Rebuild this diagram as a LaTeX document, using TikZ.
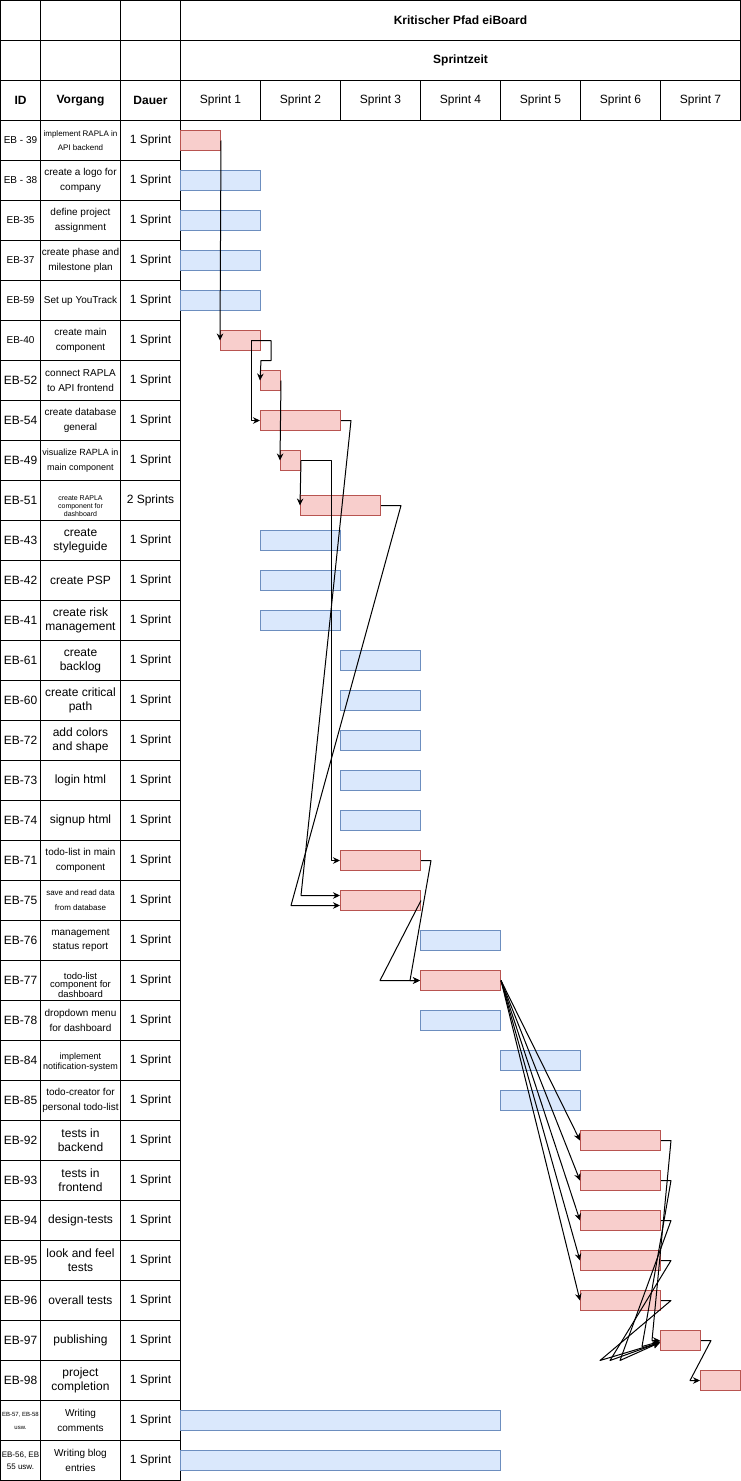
\documentclass[tikz,border=0pt]{standalone}
\usepackage{fontspec}
\setmainfont{Liberation Sans}
\usetikzlibrary{arrows.meta,calc}
\definecolor{redfill}{HTML}{F8CECC}
\definecolor{redline}{HTML}{B85450}
\definecolor{bluefill}{HTML}{DAE8FC}
\definecolor{blueline}{HTML}{6C8EBF}
\newcommand\myfs[2]{\fontsize{#1}{#2}\selectfont}
\newcommand\mytaskrow[8]{%
  \node[cell, minimum width=40pt, font=\myfs{#2}{#3}] (id#1) at (20,{140+40*#1}) {#4};
  \node[cell, minimum width=80pt, font=\myfs{#5}{#6}] (vg#1) at (80,{140+40*#1}) {#7};
  \node[cell, minimum width=60pt, font=\myfs{12}{14}] (du#1) at (150,{140+40*#1}) {#8};
}
\tikzset{
  cell/.style={draw, line width=1pt, minimum height=40pt, inner sep=0pt, align=center},
  barbase/.style={minimum height=20pt, inner sep=0pt, line width=1pt},
  redbar/.style={barbase, draw=redline, fill=redfill},
  bluebar/.style={barbase, draw=blueline, fill=bluefill},
  conn/.style={draw, line width=1pt, line join=round, -{Stealth[length=7pt,width=6.5pt]}},
}
\begin{document}
\begin{tikzpicture}[x=1pt,y=-1pt]
\useasboundingbox (-0.5,-0.5) rectangle (740.5,1480.5);
% header
\node[cell, minimum width=40pt] (e1) at (20,20) {};
\node[cell, minimum width=80pt] (e2) at (80,20) {};
\node[cell, minimum width=60pt] (e3) at (150,20) {};
\node[cell, minimum width=40pt] (e4) at (20,60) {};
\node[cell, minimum width=80pt] (e5) at (80,60) {};
\node[cell, minimum width=60pt] (e6) at (150,60) {};
\node[cell, minimum width=560pt, font=\bfseries\myfs{12}{14}] (title) at (460,20) {Kritischer Pfad eiBoard};
\node[cell, minimum width=560pt, font=\bfseries\myfs{12}{14}] (sprintzeit) at (460,60) {Sprintzeit};
\node[cell, minimum width=40pt, font=\bfseries\myfs{12}{14}] (hid) at (20,100) {ID};
\node[cell, minimum width=80pt, font=\bfseries\myfs{12}{14}] (hvg) at (80,100) {Vorgang};
\node[cell, minimum width=60pt, font=\bfseries\myfs{12}{14}] (hdu) at (150,100) {Dauer};
\foreach \k in {1,...,7}{
  \node[cell, minimum width=80pt, font=\myfs{12}{14}] (s\k) at ({140+80*\k},100) {Sprint \k};
}
% rows
\mytaskrow{0}{10}{12}{EB - 39}{8}{14.5}{implement RAPLA in\\API backend}{1 Sprint}
\mytaskrow{1}{10}{12}{EB - 38}{10}{15}{create a logo for\\company}{1 Sprint}
\mytaskrow{2}{10}{12}{EB-35}{10}{14.5}{define project\\assignment}{1 Sprint}
\mytaskrow{3}{10}{12}{EB-37}{10}{15}{create phase and\\milestone plan}{1 Sprint}
\mytaskrow{4}{10}{12}{EB-59}{10}{15}{Set up YouTrack}{1 Sprint}
\mytaskrow{5}{10}{12}{EB-40}{10}{15}{create main\\component}{1 Sprint}
\mytaskrow{6}{12}{14}{EB-52}{10}{15}{connect RAPLA\\to API frontend}{1 Sprint}
\mytaskrow{7}{12}{14}{EB-54}{10}{15}{create database\\general}{1 Sprint}
\mytaskrow{8}{12}{14}{EB-49}{9}{15}{visualize RAPLA in\\main component}{1 Sprint}
\mytaskrow{9}{12}{14}{EB-51}{7}{8}{\mbox{}\\\mbox{}\\create RAPLA\\component for\\dashboard}{2 Sprints}
\mytaskrow{10}{12}{14}{EB-43}{12}{14}{create\\styleguide}{1 Sprint}
\mytaskrow{11}{12}{14}{EB-42}{12}{14}{create PSP}{1 Sprint}
\mytaskrow{12}{12}{14}{EB-41}{12}{14}{create risk\\management}{1 Sprint}
\mytaskrow{13}{12}{14}{EB-61}{12}{14}{create\\backlog}{1 Sprint}
\mytaskrow{14}{12}{14}{EB-60}{12}{14}{create critical\\path}{1 Sprint}
\mytaskrow{15}{12}{14}{EB-72}{12}{14}{add colors\\and shape}{1 Sprint}
\mytaskrow{16}{12}{14}{EB-73}{12}{14}{login html}{1 Sprint}
\mytaskrow{17}{12}{14}{EB-74}{12}{14}{signup html}{1 Sprint}
\mytaskrow{18}{12}{14}{EB-71}{10}{15}{todo-list in main\\component}{1 Sprint}
\mytaskrow{19}{12}{14}{EB-75}{8}{15}{save and read data\\from database}{1 Sprint}
\mytaskrow{20}{12}{14}{EB-76}{10}{14}{management\\status report}{1 Sprint}
\mytaskrow{21}{12}{14}{EB-77}{9.5}{8}{\mbox{}\\\mbox{}\\todo-list\\component for\\dashboard}{1 Sprint}
\mytaskrow{22}{12}{14}{EB-78}{10}{15}{dropdown menu\\for dashboard}{1 Sprint}
\mytaskrow{23}{12}{14}{EB-84}{9}{10}{\mbox{}\\implement\\notification-system}{1 Sprint}
\mytaskrow{24}{12}{14}{EB-85}{10}{15}{todo-creator for\\personal todo-list}{1 Sprint}
\mytaskrow{25}{12}{14}{EB-92}{12}{14}{tests in\\backend}{1 Sprint}
\mytaskrow{26}{12}{14}{EB-93}{12}{14}{tests in\\frontend}{1 Sprint}
\mytaskrow{27}{12}{14}{EB-94}{12}{14}{design-tests}{1 Sprint}
\mytaskrow{28}{12}{14}{EB-95}{12}{14}{look and feel\\tests}{1 Sprint}
\mytaskrow{29}{12}{14}{EB-96}{12}{14}{overall tests}{1 Sprint}
\mytaskrow{30}{12}{14}{EB-97}{12}{14}{publishing}{1 Sprint}
\mytaskrow{31}{12}{14}{EB-98}{12}{14}{project\\completion}{1 Sprint}
\mytaskrow{32}{6}{13}{EB-57, EB-58\\usw.}{10}{15}{Writing\\comments}{1 Sprint}
\mytaskrow{33}{8}{12}{EB-56, EB\\55 usw.}{10}{15}{Writing blog\\entries}{1 Sprint}
% bars
\node[redbar, minimum width=40pt] (b39) at (200,140) {};
\node[bluebar, minimum width=80pt] (b38) at (220,180) {};
\node[bluebar, minimum width=80pt] (b35) at (220,220) {};
\node[bluebar, minimum width=80pt] (b37) at (220,260) {};
\node[bluebar, minimum width=80pt] (b59) at (220,300) {};
\node[redbar, minimum width=40pt] (b40) at (240,340) {};
\node[redbar, minimum width=20pt] (b52) at (270,380) {};
\node[redbar, minimum width=80pt] (b54) at (300,420) {};
\node[redbar, minimum width=20pt] (b49) at (290,460) {};
\node[redbar, minimum width=80pt] (b51) at (340,505) {};
\node[bluebar, minimum width=80pt] (b43) at (300,540) {};
\node[bluebar, minimum width=80pt] (b42) at (300,580) {};
\node[bluebar, minimum width=80pt] (b41) at (300,620) {};
\node[bluebar, minimum width=80pt] (b61) at (380,660) {};
\node[bluebar, minimum width=80pt] (b60) at (380,700) {};
\node[bluebar, minimum width=80pt] (b72) at (380,740) {};
\node[bluebar, minimum width=80pt] (b73) at (380,780) {};
\node[bluebar, minimum width=80pt] (b74) at (380,820) {};
\node[redbar, minimum width=80pt] (b71) at (380,860) {};
\node[redbar, minimum width=80pt] (b75) at (380,900) {};
\node[bluebar, minimum width=80pt] (b76) at (460,940) {};
\node[redbar, minimum width=80pt] (b77) at (460,980) {};
\node[bluebar, minimum width=80pt] (b78) at (460,1020) {};
\node[bluebar, minimum width=80pt] (b84) at (540,1060) {};
\node[bluebar, minimum width=80pt] (b85) at (540,1100) {};
\node[redbar, minimum width=80pt] (b92) at (620,1140) {};
\node[redbar, minimum width=80pt] (b93) at (620,1180) {};
\node[redbar, minimum width=80pt] (b94) at (620,1220) {};
\node[redbar, minimum width=80pt] (b95) at (620,1260) {};
\node[redbar, minimum width=80pt] (b96) at (620,1300) {};
\node[redbar, minimum width=40pt] (b97) at (680,1340) {};
\node[redbar, minimum width=40pt] (b98) at (720,1380) {};
\node[bluebar, minimum width=320pt] (bwc) at (340,1420) {};
\node[bluebar, minimum width=320pt] (bwb) at (340,1460) {};
% connectors
\draw[conn] (b39.east) -- (b40.west);
\draw[conn] ([xshift=-10pt]b40.east) -- ++(20,0) -- ++(0,20) -- ++(-10,0) -- (b52.west);
\draw[conn] ([xshift=-10pt]b40.east) |- (b54.west);
\draw[conn] (b52.east) -- (b49.west);
\draw[conn] (b49.east) -- (b51.west);
\draw[conn] (b49.east) -- ++(30,0) |- (b71.west);
\draw[conn] (b54.east) -- ++(10,0) -- ([xshift=-39pt,yshift=5pt]b75.west) -- ([yshift=5pt]b75.west);
\draw[conn] (b51.east) -- ++(20,0) -- ([xshift=-49pt,yshift=-5pt]b75.west) -- ([yshift=-5pt]b75.west);
\draw[conn] (b71.east) -- ++(10,0) -- ([xshift=-10pt]b77.west) -- (b77.west);
\draw[conn] (b75.east) -- ([xshift=-40pt]b77.west) -- (b77.west);
\foreach \t in {b92,b93,b94,b95,b96}{
  \draw[conn] (b77.east) -- (\t.west);
}
\draw[conn] (b92.east) -- ++(10,0) -- ([xshift=-8pt]b97.west) -- (b97.west);
\draw[conn] (b93.east) -- ++(10,0) -- ([xshift=-18pt,yshift=-6pt]b97.west) -- ([yshift=-1pt]b97.west);
\draw[conn] (b94.east) -- ++(10,0) -- ([xshift=-40pt,yshift=-20pt]b97.west) -- ([yshift=-2pt]b97.west);
\draw[conn] (b95.east) -- ++(10,0) -- ([xshift=-50pt,yshift=-20pt]b97.west) -- ([yshift=-2pt]b97.west);
\draw[conn] (b96.east) -- ++(10,0) -- ([xshift=-60pt,yshift=-20pt]b97.west) -- ([yshift=-2pt]b97.west);
\draw[conn] (b97.east) -- ++(10,0) -- ([xshift=-10pt]b98.west) -- (b98.west);
\end{tikzpicture}
\end{document}
